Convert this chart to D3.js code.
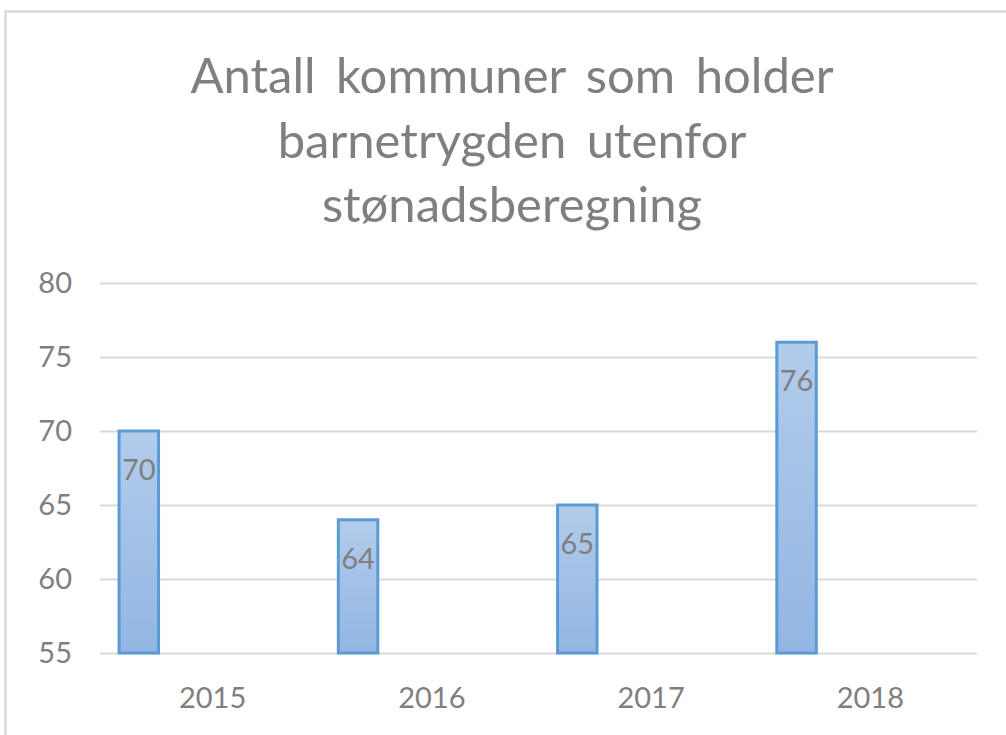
<!DOCTYPE html>
<html>
<head>
<meta charset="utf-8">
<script src="https://cdn.jsdelivr.net/npm/d3@7"></script>
<style>
  html, body { margin: 0; padding: 0; background: #fff; }
  svg { display: block; }
</style>
</head>
<body>
<svg id="chart" width="1006" height="735"></svg>
<script>
// ---- data ----
const categories = ["2015", "2016", "2017", "2018"];
const values = [70, 64, 65, 76];
const yTicks = [55, 60, 65, 70, 75, 80];
const yDomain = [55, 80];
const titleLines = ["Antall kommuner som holder", "barnetrygden utenfor", "stønadsberegning"];

// ---- layout ----
const W = 1006, H = 735;
const plot = { left: 100, right: 977, top: 283, bottom: 653 };
const font = "Lato, 'Open Sans', sans-serif";
const textColor = "#7f7f7f";

const svg = d3.select("#chart");
svg.append("rect").attr("width", W).attr("height", H).attr("fill", "#fff");

// chart frame (cropped)
svg.append("rect")
  .attr("x", 5.5).attr("y", 11.5)
  .attr("width", W + 40).attr("height", H + 40)
  .attr("fill", "none").attr("stroke", "#d9d9d9").attr("stroke-width", 2.5);

// gradient
const defs = svg.append("defs");
const grad = defs.append("linearGradient").attr("id", "barGrad")
  .attr("x1", 0).attr("y1", 0).attr("x2", 0).attr("y2", 1);
grad.append("stop").attr("offset", "0%").attr("stop-color", "#b2cceb");
grad.append("stop").attr("offset", "100%").attr("stop-color", "#92b6e3");

// title
const title = svg.append("text")
  .attr("text-anchor", "middle")
  .attr("font-family", font)
  .attr("font-size", 49)
  .attr("word-spacing", 8)
  .attr("fill", textColor);
titleLines.forEach((t, i) => {
  title.append("tspan").attr("x", 512).attr("y", 93 + i * 64.5).text(t);
});

// scales
const x = d3.scaleBand().domain(categories).range([plot.left, plot.right]);
const y = d3.scaleLinear().domain(yDomain).range([plot.bottom, plot.top]);

// y axis with gridlines
const yAxis = svg.append("g")
  .attr("transform", `translate(${plot.left},0)`)
  .call(d3.axisLeft(y).tickValues(yTicks)
    .tickSize(-(plot.right - plot.left)).tickPadding(28));
yAxis.select(".domain").remove();
yAxis.selectAll(".tick line").attr("stroke", "#d9d9d9").attr("stroke-width", 2.2);
yAxis.selectAll(".tick text")
  .attr("font-family", font).attr("font-size", 29).attr("fill", textColor);

// x axis labels
const xAxis = svg.append("g")
  .attr("transform", `translate(0,${plot.bottom})`)
  .call(d3.axisBottom(x).tickSize(0).tickPadding(34));
xAxis.select(".domain").remove();
xAxis.selectAll(".tick text")
  .attr("font-family", font).attr("font-size", 29).attr("fill", textColor)
  .attr("dx", 3);

// bars
const bw = x.bandwidth();
const barOffset = bw * 0.087, barWidth = bw * 0.18;
const bars = svg.append("g");
bars.selectAll("rect").data(values).join("rect")
  .attr("x", (d, i) => x(categories[i]) + barOffset)
  .attr("y", d => y(d))
  .attr("width", barWidth)
  .attr("height", d => y(yDomain[0]) - y(d))
  .attr("fill", "url(#barGrad)")
  .attr("stroke", "#5b9bd5")
  .attr("stroke-width", 3);

// data labels
svg.append("g").selectAll("text").data(values).join("text")
  .attr("x", (d, i) => x(categories[i]) + barOffset + barWidth / 2)
  .attr("y", d => y(d) + 49)
  .attr("text-anchor", "middle")
  .attr("font-family", font).attr("font-size", 29)
  .attr("fill", textColor)
  .text(d => d);
</script>
</body>
</html>
